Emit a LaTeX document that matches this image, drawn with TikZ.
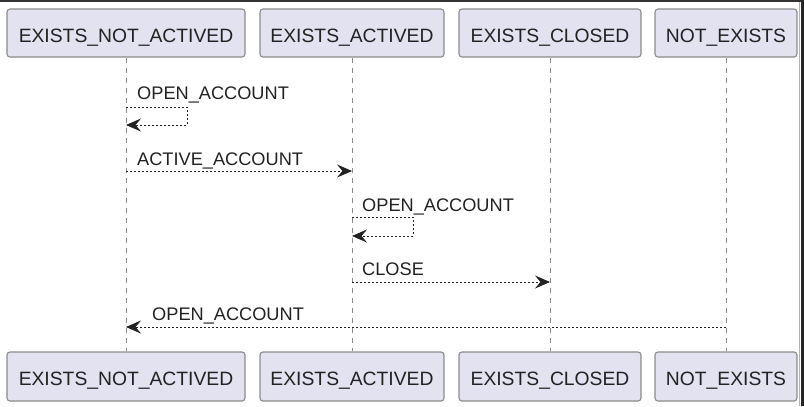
\documentclass[tikz,border=0pt]{standalone}
\usepackage{fontspec}
\setmainfont{Liberation Sans}
\usetikzlibrary{arrows.meta}
\definecolor{boxfill}{HTML}{E2E2F0}
\definecolor{boxline}{HTML}{8C8C8C}
\definecolor{lifeln}{HTML}{8A8A8A}
\definecolor{ink}{HTML}{222222}
\tikzset{
  part/.style={draw=boxline, fill=boxfill, line width=1.1bp, rounded corners=3bp,
    minimum height=48bp, inner xsep=0pt, inner ysep=0pt, text height=22bp, text depth=4bp,
    font=\fontsize{19.3bp}{22bp}\selectfont, text=ink},
  life/.style={draw=lifeln, line width=1bp, dash pattern=on 5bp off 5bp},
  msg/.style={draw=ink, line width=0.9bp, dash pattern=on 2bp off 2bp,
    -{Stealth[length=15bp, width=13bp, inset=5.5bp]}},
  lbl/.style={anchor=base west, inner sep=0pt, font=\fontsize{18.2bp}{21bp}\selectfont, text=ink}
}
\begin{document}
\begin{tikzpicture}[x=1bp,y=-1bp]
\useasboundingbox (0,0) rectangle (804,406);
\fill[white] (0,0) rectangle (804,406);
% screenshot edges
\fill[black!80] (0,0) rectangle (804,2);
\fill[black!85] (801,0) rectangle (804,406);
\draw[black!30, line width=1bp] (799.5,2) -- (799.5,406);
% participants
\node[part, minimum width=238bp] (a1) at (126,33) {EXISTS\_NOT\_ACTIVED};
\node[part, minimum width=184bp] (b1) at (352,33) {EXISTS\_ACTIVED};
\node[part, minimum width=182bp] (c1) at (550,33) {EXISTS\_CLOSED};
\node[part, minimum width=142bp] (d1) at (726,33) {NOT\_EXISTS};
\node[part, minimum width=238bp, minimum height=49bp] (a2) at (126,376.5) {EXISTS\_NOT\_ACTIVED};
\node[part, minimum width=184bp, minimum height=49bp] (b2) at (352,376.5) {EXISTS\_ACTIVED};
\node[part, minimum width=182bp, minimum height=49bp] (c2) at (550,376.5) {EXISTS\_CLOSED};
\node[part, minimum width=142bp, minimum height=49bp] (d2) at (726,376.5) {NOT\_EXISTS};
% lifelines
\draw[life] (a1.south) -- (a2.north);
\draw[life] (b1.south) -- (b2.north);
\draw[life] (c1.south) -- (c2.north);
\draw[life] (d1.south) -- (d2.north);
% message anchor points
\coordinate (m1s) at (126,107);
\coordinate (m1e) at (126,125);
\coordinate (m2s) at (126,171);
\coordinate (m2e) at (352,171);
\coordinate (m3s) at (352,217);
\coordinate (m3e) at (352,236);
\coordinate (m4s) at (352,282);
\coordinate (m4e) at (550,282);
\coordinate (m5s) at (726,327);
\coordinate (m5e) at (126,327);
% messages
\draw[msg] (m1s) -- ++(61,0) |- (m1e);
\node[lbl] (l1) at (137,99) {OPEN\_ACCOUNT};
\draw[msg] (m2s) -- (m2e);
\node[lbl] (l2) at (137,165) {ACTIVE\_ACCOUNT};
\draw[msg] (m3s) -- ++(61,0) |- (m3e);
\node[lbl] (l3) at (362,211) {OPEN\_ACCOUNT};
\draw[msg] (m4s) -- (m4e);
\node[lbl] (l4) at (362,275) {CLOSE};
\draw[msg] (m5s) -- (m5e);
\node[lbl] (l5) at (152,320) {OPEN\_ACCOUNT};
\end{tikzpicture}
\end{document}
